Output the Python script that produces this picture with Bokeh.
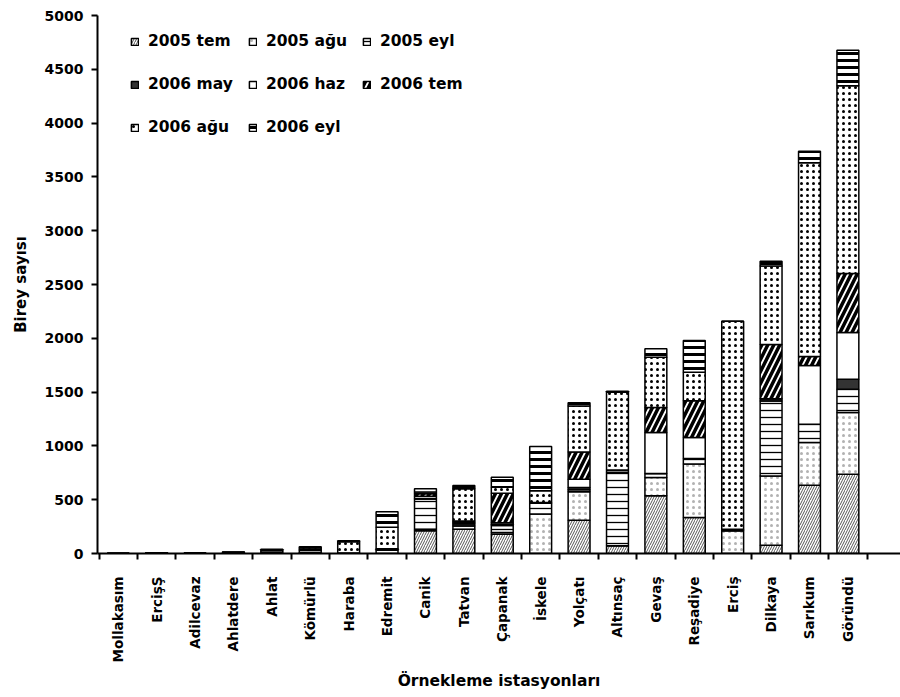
import math
from bokeh.plotting import figure
from bokeh.models import Range1d, FixedTicker, Legend, LegendItem, ColumnDataSource
from bokeh.transform import stack
from bokeh.embed import file_html
from bokeh.resources import INLINE

stations = ["Mollakasım", "ErcişŞ", "Adilcevaz", "Ahlatdere", "Ahlat", "Kömürlü",
            "Haraba", "Edremit", "Canik", "Tatvan", "Çapanak", "İskele", "Yolçatı",
            "Altınsaç", "Gevaş", "Reşadiye", "Erciş", "Dilkaya", "Sarıkum", "Göründü"]

series_names = ["2005 tem", "2005 ağu", "2005 eyl", "2006 may",
                "2006 haz", "2006 tem", "2006 ağu", "2006 eyl"]

tem_2005 = [0, 0, 0, 0, 0, 0, 0, 0, 211, 226, 180, 0, 310, 71, 536, 335, 0, 77, 635, 737]
agu_2005 = [0, 0, 0, 0, 0, 10, 5, 30, 15, 0, 15, 366, 263, 0, 170, 496, 211, 644, 397, 573]
eyl_2005 = [0, 4, 5, 8, 15, 20, 0, 10, 280, 30, 65, 100, 20, 685, 37, 53, 0, 697, 170, 217]
may_2006 = [0, 0, 0, 0, 0, 5, 0, 5, 5, 20, 10, 8, 20, 0, 0, 0, 15, 20, 0, 93]
haz_2006 = [0, 0, 0, 0, 0, 0, 0, 0, 20, 15, 15, 0, 77, 20, 381, 195, 0, 0, 545, 434]
tem_2006 = [0, 0, 0, 0, 0, 0, 0, 0, 25, 10, 275, 0, 254, 0, 232, 341, 0, 505, 84, 548]
agu_2006 = [0, 0, 0, 5, 15, 15, 105, 200, 15, 300, 56, 110, 427, 723, 469, 265, 1933, 728, 1800, 1744]
eyl_2006 = [0, 2, 0, 2, 10, 12, 8, 142, 30, 31, 93, 410, 31, 10, 77, 295, 0, 46, 108, 331]

y_ticks = [0, 500, 1000, 1500, 2000, 2500, 3000, 3500, 4000, 4500, 5000]

keys = ["s0", "s1", "s2", "s3", "s4", "s5", "s6", "s7"]
series_values = [tem_2005, agu_2005, eyl_2005, may_2006, haz_2006, tem_2006, agu_2006, eyl_2006]

x_centers = [i + 0.5 for i in range(len(stations))]
data = {"x": x_centers}
for k, v in zip(keys, series_values):
    data[k] = v
source = ColumnDataSource(data)

FONT = "DejaVu Sans"

p = figure(frame_width=803, frame_height=538, output_backend="svg", toolbar_location=None,
           x_range=Range1d(-0.04, 20.87), y_range=Range1d(0, 5000),
           min_border_left=97, min_border_right=0, min_border_top=15, min_border_bottom=0)
p.outline_line_color = None
p.xgrid.visible = False
p.ygrid.visible = False
p.background_fill_color = "white"
p.border_fill_color = "white"

styles = [
    dict(fill_color="white", hatch_pattern="/", hatch_scale=5, hatch_weight=1, hatch_color="#555555"),
    dict(fill_color="white", hatch_pattern=".", hatch_scale=6, hatch_weight=0.5,
         hatch_color="black", hatch_alpha=0.3),
    dict(fill_color="white", hatch_pattern="-", hatch_scale=7, hatch_weight=1.3, hatch_color="black"),
    dict(fill_color="#333333"),
    dict(fill_color="white"),
    dict(fill_color="white", hatch_pattern="/", hatch_scale=12, hatch_weight=3.5, hatch_color="black"),
    dict(fill_color="white", hatch_pattern=".", hatch_scale=6, hatch_weight=2.6, hatch_color="black"),
    dict(fill_color="white", hatch_pattern="-", hatch_scale=7, hatch_weight=3, hatch_color="black"),
]

renderers = []
for i, k in enumerate(keys):
    r = p.vbar(x="x", width=0.57, bottom=stack(*keys[:i]), top=stack(*keys[:i + 1]),
               source=source, line_color="black", line_width=1.5, **styles[i])
    renderers.append(r)

# axes
yax = p.yaxis[0]
yax.ticker = FixedTicker(ticks=y_ticks)
yax.axis_line_width = 2
yax.axis_line_color = "black"
yax.major_tick_line_width = 2
yax.major_tick_line_color = "black"
yax.major_tick_out = 6
yax.major_tick_in = 0
yax.minor_tick_line_color = None
yax.major_label_text_font = FONT
yax.major_label_text_font_style = "bold"
yax.major_label_text_font_size = "14px"
yax.major_label_text_color = "black"
yax.major_label_standoff = 8
yax.axis_label = "Birey sayısı"
yax.axis_label_text_font = FONT
yax.axis_label_text_font_style = "bold"
yax.axis_label_text_font_size = "15px"
yax.axis_label_text_color = "black"
yax.axis_label_standoff = 12

xax = p.xaxis[0]
xax.ticker = FixedTicker(ticks=x_centers, minor_ticks=list(range(len(stations) + 1)))
xax.major_label_overrides = {x: s for x, s in zip(x_centers, stations)}
xax.major_label_orientation = math.pi / 2
xax.axis_line_width = 2
xax.axis_line_color = "black"
xax.major_tick_out = 0
xax.major_tick_in = 0
xax.minor_tick_out = 6
xax.minor_tick_in = 0
xax.minor_tick_line_width = 2
xax.minor_tick_line_color = "black"
xax.major_label_text_font = FONT
xax.major_label_text_font_style = "bold"
xax.major_label_text_font_size = "13.5px"
xax.major_label_text_color = "black"
xax.major_label_standoff = 17
xax.axis_label = "Örnekleme istasyonları"
xax.axis_label_text_font = FONT
xax.axis_label_text_font_style = "bold"
xax.axis_label_text_font_size = "15.5px"
xax.axis_label_text_color = "black"
xax.axis_label_standoff = 7

# legends: three columns
columns = [[0, 3, 6], [1, 4, 7], [2, 5]]
col_x = [33, 151, 265]
frame_h = 538
for ci, idxs in enumerate(columns):
    items = [LegendItem(label=series_names[j], renderers=[renderers[j]]) for j in idxs]
    n = len(idxs)
    h = n * 20 + (n - 1) * 23
    leg = Legend(items=items, location=(col_x[ci], frame_h - 16 - h),
                 orientation="vertical", glyph_width=9, glyph_height=9,
                 label_standoff=9, spacing=23, label_height=20, padding=0, margin=0,
                 border_line_color=None, background_fill_alpha=0,
                 label_text_font=FONT, label_text_font_style="bold",
                 label_text_font_size="15.5px", label_text_color="black")
    p.add_layout(leg)

open("out.html", "w").write(file_html(p, INLINE))
